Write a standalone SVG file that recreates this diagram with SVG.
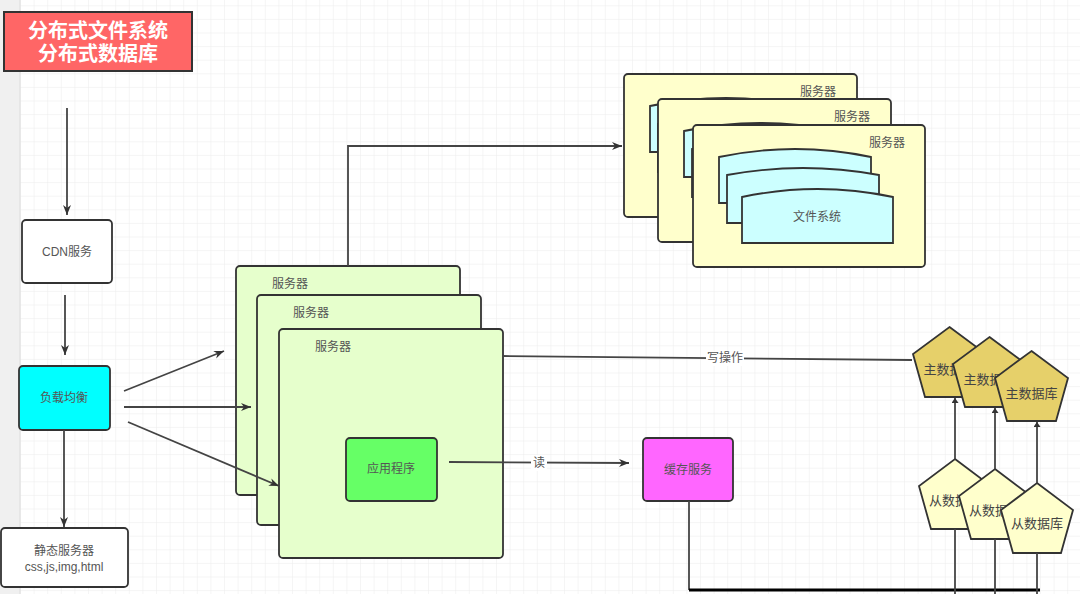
<svg xmlns="http://www.w3.org/2000/svg" xmlns:xlink="http://www.w3.org/1999/xlink" width="1080" height="594" viewBox="0 0 1080 594">
<style>
  text { font-family: "Liberation Sans", "Noto Sans CJK SC", sans-serif; font-size: 12px; fill: #555; text-anchor: middle; dominant-baseline: central; }
  .title { font-size: 20px; font-weight: bold; fill: #fff; }
  .db { font-size: 13px; fill: #444; }
  .node { stroke: #333; stroke-width: 1.8; }
  .edge { stroke: #444; stroke-width: 1.8; fill: none; }
  .fs { fill: #ccffff; stroke: #333; stroke-width: 1.8; }
</style>
<defs>
  <pattern id="grid" x="20" y="5.3" width="13.6" height="13.6" patternUnits="userSpaceOnUse">
    <path d="M13.6 0 L0 0 0 13.6" fill="none" stroke="#ebebeb" stroke-width="1"/>
  </pattern>
  <marker id="arr" markerUnits="userSpaceOnUse" markerWidth="12" markerHeight="10" refX="10" refY="4" orient="auto">
    <path d="M0,0 L10,4 L0,8 L3,4 Z" fill="#333"/>
  </marker>
  <marker id="arrS" markerUnits="userSpaceOnUse" markerWidth="8" markerHeight="8" refX="5" refY="3.5" orient="auto">
    <path d="M0,0 L5,3.5 L0,7 Z" fill="#333"/>
  </marker>
  <g id="fsstack">
    <path class="fs" d="M26,32 Q102,16 178,32 L178,78 L26,78 Z"/>
    <path class="fs" d="M34,50 Q110,36 186,50 L186,98 L34,98 Z"/>
    <path class="fs" d="M49,72 Q124.5,56 200,72 L200,118 L49,118 Z"/>
  </g>
</defs>

<rect x="0" y="0" width="1080" height="594" fill="#ffffff"/>
<rect x="20" y="0" width="1060" height="594" fill="url(#grid)"/>
<rect x="0" y="0" width="20" height="594" fill="#f0f0f0"/>
<line x1="20" y1="0" x2="20" y2="594" stroke="#dcdcdc" stroke-width="1"/>

<g id="title">
  <rect x="4" y="12" width="188" height="59" fill="#ff6666" stroke="#333" stroke-width="2"/>
  <text class="title" x="98" y="30.5">分布式文件系统</text>
  <text class="title" x="98" y="53.5">分布式数据库</text>
</g>

<g id="cdn">
  <rect class="node" x="22" y="220" width="90" height="63" rx="4" fill="#ffffff"/>
  <text x="67" y="252">CDN服务</text>
</g>
<g id="lb">
  <rect class="node" x="19" y="366" width="91" height="64" rx="4" fill="#00ffff"/>
  <text x="64" y="398">负载均衡</text>
</g>
<g id="static">
  <rect class="node" x="1" y="528" width="127" height="59" rx="4" fill="#ffffff"/>
  <text x="64" y="551">静态服务器</text>
  <text x="64" y="567">css,js,img,html</text>
</g>

<g id="fileserver1" transform="translate(624,74)">
  <rect class="node" x="0" y="0" width="233" height="143" rx="4" fill="#ffffcc"/>
  <use href="#fsstack" xlink:href="#fsstack"/>
  <text x="194" y="18">服务器</text>
</g>
<g id="fileserver2" transform="translate(658,99)">
  <rect class="node" x="0" y="0" width="233" height="143" rx="4" fill="#ffffcc"/>
  <use href="#fsstack" xlink:href="#fsstack"/>
  <text x="194" y="18">服务器</text>
</g>
<g id="fileserver3" transform="translate(693,125)">
  <rect class="node" x="0" y="0" width="232" height="142" rx="4" fill="#ffffcc"/>
  <use href="#fsstack" xlink:href="#fsstack"/>
  <text x="194" y="18">服务器</text>
  <text x="124" y="92">文件系统</text>
</g>

<g id="appserver1">
  <rect class="node" x="236" y="266" width="224" height="229" rx="4" fill="#e6ffcc"/>
  <text x="290" y="284">服务器</text>
</g>
<g id="appserver2">
  <rect class="node" x="257" y="295" width="224" height="230" rx="4" fill="#e6ffcc"/>
  <text x="311" y="313">服务器</text>
</g>
<g id="appserver3">
  <rect class="node" x="279" y="329" width="224" height="229" rx="4" fill="#e6ffcc"/>
  <text x="333" y="347">服务器</text>
</g>
<g id="app">
  <rect class="node" x="346" y="438" width="91" height="63" rx="4" fill="#66ff66"/>
  <text x="391" y="469">应用程序</text>
</g>
<g id="cache">
  <rect class="node" x="643" y="438" width="90" height="63" rx="4" fill="#ff66ff"/>
  <text x="688" y="470">缓存服务</text>
</g>

<g id="master1">
  <polygon class="node" points="949.5,327 986,354 974,397 925,397 913,354" fill="#e6d06a"/>
  <text class="db" x="949.5" y="369">主数据库</text>
</g>
<g id="master2">
  <polygon class="node" points="989.5,337 1026,364 1014,407 965,407 953,364" fill="#e6d06a"/>
  <text class="db" x="989.5" y="379">主数据库</text>
</g>
<g id="master3">
  <polygon class="node" points="1031.5,351 1068,378 1056,421 1007,421 995,378" fill="#e6d06a"/>
  <text class="db" x="1031.5" y="393">主数据库</text>
</g>

<g id="slave1">
  <polygon class="node" points="955,459 991,486 979,529 931,529 919,486" fill="#ffffcc"/>
  <text class="db" x="955" y="500">从数据库</text>
</g>
<g id="slave2">
  <polygon class="node" points="995,469 1031,496 1019,539 971,539 959,496" fill="#ffffcc"/>
  <text class="db" x="995" y="510">从数据库</text>
</g>
<g id="slave3">
  <polygon class="node" points="1037,483 1073,510 1061,553 1013,553 1001,510" fill="#ffffcc"/>
  <text class="db" x="1037" y="523">从数据库</text>
</g>

<g id="connectors">
  <line class="edge" x1="67" y1="108" x2="67" y2="215" marker-end="url(#arr)"/>
  <line class="edge" x1="65" y1="295" x2="65" y2="355" marker-end="url(#arr)"/>
  <line class="edge" x1="64" y1="430" x2="64" y2="527" marker-end="url(#arr)"/>
  <line class="edge" x1="124" y1="391" x2="224" y2="351" marker-end="url(#arr)"/>
  <line class="edge" x1="124" y1="407" x2="251" y2="407" marker-end="url(#arr)"/>
  <line class="edge" x1="128" y1="422" x2="279" y2="486" marker-end="url(#arr)"/>
  <polyline class="edge" points="348,266 348,146 622,146" marker-end="url(#arr)"/>
  <line class="edge" x1="503" y1="356" x2="912" y2="360"/>
  <rect x="706" y="351" width="38" height="15" fill="#fff"/>
  <text x="725" y="358">写操作</text>
  <line class="edge" x1="449" y1="462" x2="629" y2="463" marker-end="url(#arr)"/>
  <rect x="531" y="455" width="16" height="16" fill="#fff"/>
  <text x="539" y="463">读</text>
  <polyline class="edge" points="689,501 689,590"/>
  <line x1="689" y1="590" x2="1040" y2="590" stroke="#000" stroke-width="3.2"/>
  <line class="edge" x1="955" y1="459" x2="955" y2="398" marker-end="url(#arrS)"/>
  <line class="edge" x1="995" y1="469" x2="995" y2="408" marker-end="url(#arrS)"/>
  <line class="edge" x1="1037" y1="483" x2="1037" y2="422" marker-end="url(#arrS)"/>
  <line class="edge" x1="955" y1="529" x2="955" y2="594"/>
  <line class="edge" x1="995" y1="539" x2="995" y2="594"/>
  <line class="edge" x1="1037" y1="553" x2="1037" y2="594"/>
</g>
</svg>
